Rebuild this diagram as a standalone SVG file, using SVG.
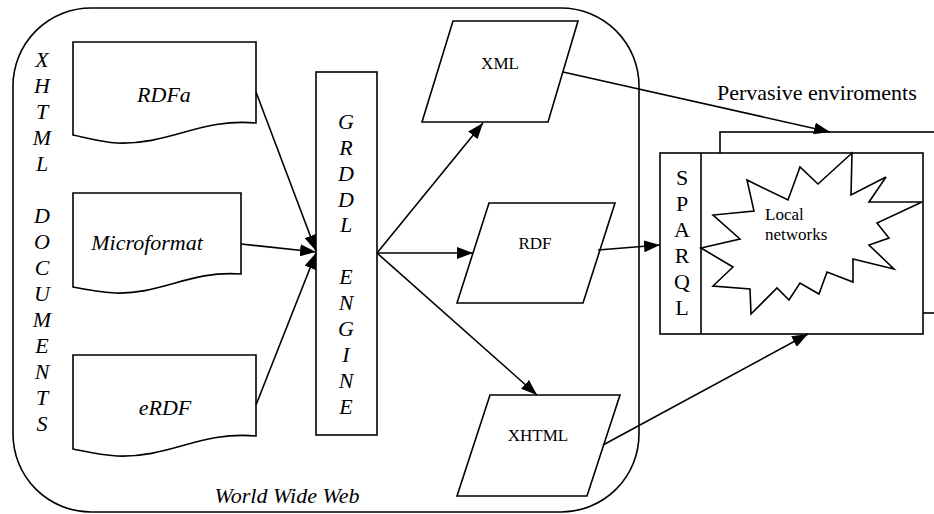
<svg xmlns="http://www.w3.org/2000/svg" width="934" height="514" viewBox="0 0 934 514">
<defs>
<marker id="ah" viewBox="0 0 16 12" refX="16" refY="6" markerWidth="16" markerHeight="12" markerUnits="userSpaceOnUse" orient="auto">
<path d="M0,0 L16,6 L0,12 z" fill="#000"/>
</marker>
</defs>
<style>
.s{fill:#fff;stroke:#000;stroke-width:1.6}
.n{fill:none;stroke:#000;stroke-width:1.6}
.c{fill:none;stroke:#000;stroke-width:1.6;marker-end:url(#ah)}
.ti{font-family:'Liberation Serif','DejaVu Serif',serif;font-style:italic;font-size:22px;fill:#000}
.tr{font-family:'Liberation Serif','DejaVu Serif',serif;font-size:22px;fill:#000}
.ts{font-family:'Liberation Serif','DejaVu Serif',serif;font-size:17px;fill:#000}
</style>
<rect width="934" height="514" fill="#fff"/>
<g id="www">
<rect x="13" y="8" width="626" height="504" rx="78" ry="78" class="n"/>
<text x="287" y="503" class="ti" text-anchor="middle">World Wide Web</text>
</g>
<g id="xhtml-documents" class="ti" text-anchor="middle">
<text x="42" y="67">X</text>
<text x="42" y="93">H</text>
<text x="42" y="119">T</text>
<text x="42" y="145">M</text>
<text x="42" y="171">L</text>
<text x="42" y="223">D</text>
<text x="42" y="249">O</text>
<text x="42" y="275">C</text>
<text x="42" y="301">U</text>
<text x="42" y="327">M</text>
<text x="42" y="353">E</text>
<text x="42" y="379">N</text>
<text x="42" y="405">T</text>
<text x="42" y="431">S</text>
</g>
<g id="rdfa">
<path class="s" d="M73,42 H256 V123 C200,118 170,145 117,143 C100,142 88,138 73,135 Z"/>
<text x="164" y="102" class="ti" text-anchor="middle">RDFa</text>
</g>
<g id="microformat">
<path class="s" d="M73,193 H241 V274 C190,270 160,295 115,293 C98,292 88,290 73,287 Z"/>
<text x="147" y="250" class="ti" text-anchor="middle">Microformat</text>
</g>
<g id="erdf">
<path class="s" d="M73,355 H256 V436 C200,431 170,458 117,456 C100,455 88,452 73,449 Z"/>
<text x="165" y="415" class="ti" text-anchor="middle">eRDF</text>
</g>
<g id="grddl">
<rect x="316" y="72" width="61" height="363" class="s"/>
<g class="ti" text-anchor="middle">
<text x="346" y="129">G</text>
<text x="346" y="155">R</text>
<text x="346" y="181">D</text>
<text x="346" y="207">D</text>
<text x="346" y="232">L</text>
<text x="346" y="284">E</text>
<text x="346" y="310">N</text>
<text x="346" y="336">G</text>
<text x="346" y="362">I</text>
<text x="346" y="388">N</text>
<text x="346" y="414">E</text>
</g>
</g>
<g id="xml">
<polygon class="s" points="453,21 578,21 548,122 422,122"/>
<text x="500" y="69" class="ts" text-anchor="middle">XML</text>
</g>
<g id="rdf">
<polygon class="s" points="489,203 615,203 583,303 457,303"/>
<text x="535" y="249" class="ts" text-anchor="middle">RDF</text>
</g>
<g id="xhtml">
<polygon class="s" points="490,395 620,395 587,496 457,496"/>
<text x="538" y="441" class="ts" text-anchor="middle">XHTML</text>
</g>
<g id="pervasive">
<rect x="720" y="132" width="263" height="181" class="s"/>
<text x="717" y="100" class="tr">Pervasive enviroments</text>
</g>
<g id="local-networks">
<rect x="660" y="153" width="263" height="181" class="s"/>
<line x1="701" y1="153" x2="701" y2="334" class="n"/>
<g class="tr" text-anchor="middle">
<text x="682" y="185">S</text>
<text x="682" y="211">P</text>
<text x="682" y="237">A</text>
<text x="682" y="263">R</text>
<text x="682" y="289">Q</text>
<text x="682" y="315">L</text>
</g>
<polygon class="s" points="701,248 740,239 713,215 754,211 747,180 788,200 800,167 818,184 852,153 851,195 886,177 869,202 922,202 877,223 889,238 869,245 894,269 853,259 853,282 827,272 819,294 800,283 789,300 777,288 751,314 750,289 713,286 733,267"/>
<text x="765" y="220" class="ts">Local</text>
<text x="765" y="240" class="ts">networks</text>
</g>
<g id="connectors">
<line x1="256" y1="92" x2="316" y2="251" class="c"/>
<line x1="241" y1="244" x2="316" y2="252" class="c"/>
<line x1="256" y1="405" x2="316" y2="253" class="c"/>
<line x1="377" y1="253" x2="483" y2="123" class="c"/>
<line x1="377" y1="253" x2="473" y2="253" class="c"/>
<line x1="377" y1="253" x2="537" y2="395" class="c"/>
<line x1="563" y1="72" x2="830" y2="132" class="c"/>
<line x1="598" y1="250" x2="660" y2="245" class="c"/>
<line x1="603" y1="445" x2="808" y2="334" class="c"/>
</g>
</svg>
